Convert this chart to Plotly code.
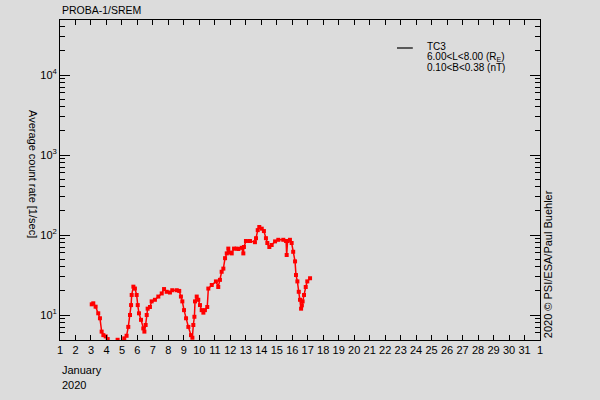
import plotly.graph_objects as go

## data (day of January 2020, count rate 1/sec)
days = [
    3.05, 3.15, 3.30, 3.47, 3.58, 3.69, 3.80, 3.95, 4.08, 4.30, 4.55, 4.72, 4.85,
    5.15, 5.30, 5.41, 5.52, 5.59, 5.63, 5.74, 5.84, 5.95, 6.02, 6.10, 6.23, 6.38,
    6.45, 6.53, 6.60, 6.66, 6.81, 6.92, 7.13, 7.35, 7.57, 7.72, 7.89, 8.10, 8.25,
    8.54, 8.70, 8.81, 8.90, 9.01, 9.14, 9.29, 9.46, 9.55, 9.61, 9.68, 9.72, 9.83,
    9.93, 10.04, 10.15, 10.26, 10.36, 10.51, 10.58, 10.80, 11.07, 11.22, 11.33,
    11.44, 11.55, 11.66, 11.77, 11.87, 11.98, 12.09, 12.24, 12.41, 12.52, 12.73,
    12.84, 12.88, 13.01, 13.27, 13.59, 13.66, 13.77, 13.87, 14.03, 14.17, 14.30,
    14.39, 14.52, 14.67, 14.89, 15.10, 15.42, 15.60, 15.64, 15.70, 15.85, 15.96,
    16.06, 16.18, 16.24, 16.33, 16.42, 16.50, 16.57, 16.62, 16.67, 16.76, 16.87,
    16.97, 17.15,
]
rate = [
    13.6, 14.0, 12.7, 10.5, 9.1, 6.2, 5.6, 5.4, 5.0, 3.5, 4.0, 4.9, 4.2,
    5.1, 5.5, 7.1, 10.0, 13.3, 17.8, 22.6, 21.4, 17.8, 13.3, 10.5, 8.7, 6.8,
    6.2, 7.5, 10.0, 12.0, 12.6, 14.8, 15.5, 17.0, 18.6, 21.1, 19.5, 19.1, 20.4,
    20.4, 20.0, 17.0, 14.8, 11.5, 9.1, 7.1, 5.6, 5.2, 7.5, 9.5, 14.8, 17.0,
    15.5, 13.3, 11.5, 10.7, 11.5, 12.6, 21.4, 23.7, 26.3, 22.4, 27.5,
    34.7, 38.0, 51.3, 58.9, 67.6, 60.3, 58.9, 67.6, 67.6, 66.8, 69.2,
    58.9, 70.8, 84.1, 84.1, 81.3, 91.2, 115, 126, 120, 112, 91.2,
    79.4, 70.8, 75.0, 83.2, 87.1, 87.1, 84.1, 56.2, 84.1, 87.1, 79.4,
    61.7, 46.8, 31.6, 26.3, 19.5, 15.5, 12.0, 13.2, 14.8, 17.8, 22.4,
    26.3, 28.8,
]

# axis labels
day_ticks = list(range(1, 33))
day_labels = [str(d) for d in range(1, 32)] + ["1"]
y_ticks = [10, 100, 1000, 10000]
y_labels = ["10<sup>1</sup>", "10<sup>2</sup>", "10<sup>3</sup>", "10<sup>4</sup>"]
y_minor = [m * 10 ** e for e in range(0, 5) for m in range(2, 10)]

bg = "#DCDCDC"
font = dict(family="Liberation Sans", size=11, color="black")

fig = go.Figure()
fig.add_trace(
    go.Scatter(
        x=days,
        y=rate,
        mode="lines+markers",
        line=dict(color="#FF0000", width=1.5),
        marker=dict(color="#FF0000", size=4, symbol="square"),
        showlegend=False,
    )
)

fig.update_xaxes(
    range=[1, 32],
    tickmode="array",
    tickvals=day_ticks,
    ticktext=day_labels,
    ticks="inside",
    ticklen=5,
    tickcolor="black",
    showline=True,
    linecolor="black",
    linewidth=1,
    mirror="ticks",
    showgrid=False,
    zeroline=False,
)
fig.update_yaxes(
    type="log",
    range=[0.6875, 4.6875],
    tickmode="array",
    tickvals=y_ticks,
    ticktext=y_labels,
    ticks="inside",
    ticklen=10,
    tickcolor="black",
    minor=dict(ticks="inside", ticklen=5, tickcolor="black", tickmode="array",
               tickvals=y_minor, showgrid=False),
    showline=True,
    linecolor="black",
    linewidth=1,
    mirror="ticks",
    showgrid=False,
    zeroline=False,
)

fig.update_layout(
    width=600,
    height=400,
    margin=dict(l=60, r=60, t=20, b=60),
    plot_bgcolor=bg,
    paper_bgcolor=bg,
    font=font,
    showlegend=False,
)

# title and side texts
fig.add_annotation(text="PROBA-1/SREM", x=0, y=1.032, xref="paper", yref="paper",
                   xanchor="left", yanchor="middle", showarrow=False,
                   font=dict(size=10.5))
fig.add_annotation(text="Average count rate [1/sec]", textangle=90,
                   x=-0.055, y=0.52, xref="paper", yref="paper",
                   xanchor="center", yanchor="middle", showarrow=False)
fig.add_annotation(text="2020 \u00a9 PSI/ESA/Paul Buehler", textangle=-90,
                   x=1.017, y=0, xref="paper", yref="paper",
                   xanchor="center", yanchor="bottom", showarrow=False)
fig.add_annotation(text="January", x=0, y=-0.07, xref="paper", yref="paper",
                   xanchor="left", yanchor="top", showarrow=False)
fig.add_annotation(text="2020", x=0, y=-0.115, xref="paper", yref="paper",
                   xanchor="left", yanchor="top", showarrow=False)

# legend drawn by hand: black line with three lines of text
fig.add_shape(type="line", x0=0.702, x1=0.735, y0=0.9125, y1=0.9125,
              xref="paper", yref="paper", line=dict(color="black", width=1.2))
legend_lines = ["TC3", "6.00&lt;L&lt;8.00 (R<sub>E</sub>)", "0.10&lt;B&lt;0.38 (nT)"]
for i, txt in enumerate(legend_lines):
    fig.add_annotation(text=txt, x=0.76, y=0.918 - i * 0.034, xref="paper", yref="paper",
                       xanchor="left", yanchor="middle", showarrow=False,
                       font=dict(size=10))

# drop the page's default body margin so the figure sits at the window corner
fig.write_html(
    "out.html",
    config={"displayModeBar": False},
    post_script="document.body.style.margin = '0';",
)
